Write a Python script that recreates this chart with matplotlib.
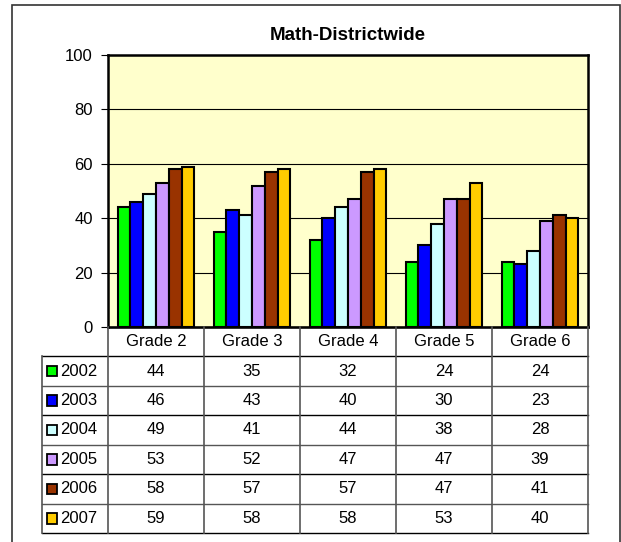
import matplotlib.pyplot as plt
import numpy as np
from matplotlib.patches import Rectangle

plt.rcParams['font.family'] = ['Liberation Sans', 'DejaVu Sans']

# 数据
grades = ['Grade 2', 'Grade 3', 'Grade 4', 'Grade 5', 'Grade 6']
years = ['2002', '2003', '2004', '2005', '2006', '2007']
scores = {
    '2002': [44, 35, 32, 24, 24],
    '2003': [46, 43, 40, 30, 23],
    '2004': [49, 41, 44, 38, 28],
    '2005': [53, 52, 47, 47, 39],
    '2006': [58, 57, 57, 47, 41],
    '2007': [59, 58, 58, 53, 40],
}
colors = ['#00FF00', '#0000FF', '#CCFFFF', '#CC99FF', '#993300', '#FFCC00']
title = 'Math-Districtwide'

W, H = 621, 542
fig = plt.figure(figsize=(W / 100, H / 100), dpi=100)
fs = 12


def px(x0, y0, x1, y1):
    # 像素坐标 -> figure 坐标
    return [x0 / W, 1 - y1 / H, (x1 - x0) / W, (y1 - y0) / H]


# 外框
fig.patches.append(Rectangle((12 / W, -0.01), (620 - 12) / W, 1 - 5 / H + 0.01,
                             transform=fig.transFigure, fill=False,
                             edgecolor='#333333', linewidth=1.2))

# 柱状图
ax = fig.add_axes(px(108, 55, 588, 327))
ax.set_facecolor('#FFFFCC')
n = len(years)
x = np.arange(len(grades))
bw = 1 / (n + 1.5)
for i, yr in enumerate(years):
    offs = (i - (n - 1) / 2) * bw
    ax.bar(x + offs, scores[yr], width=bw, color=colors[i],
           edgecolor='black', linewidth=1.5, zorder=3)
ax.set_xlim(-0.5, len(grades) - 0.5)
ax.set_ylim(0, 100)
ax.set_yticks(range(0, 101, 20))
ax.yaxis.grid(True, color='black', linewidth=0.8, zorder=0)
ax.set_xticks(np.arange(len(grades) + 1) - 0.5)
ax.set_xticklabels([])
ax.tick_params(axis='y', direction='out', length=5, labelsize=fs, pad=6)
ax.tick_params(axis='x', direction='out', length=0)
for s in ax.spines.values():
    s.set_linewidth(1.8)
    s.set_color('black')
ax.set_title(title, fontsize=13.5, fontweight='bold', pad=11)

# 数据表
tb = fig.add_axes(px(42, 327, 588, 533))
lab_w = 66 / 96
tb.set_xlim(-lab_w, len(grades))
tb.set_ylim(len(years) + 1, 0)
tb.axis('off')
lc = '#555555'
# 横线
tb.plot([0, len(grades)], [0, 0], color='black', lw=1, clip_on=False)
for r in range(1, len(years) + 2):
    tb.plot([-lab_w, len(grades)], [r, r], color='black' if r % 2 == 1 else lc,
            lw=1, clip_on=False)
# 竖线
tb.plot([-lab_w, -lab_w], [1, len(years) + 1], color=lc, lw=1.2, clip_on=False)
for c in range(len(grades) + 1):
    tb.plot([c, c], [0, len(years) + 1], color=lc, lw=1.2, clip_on=False)

for c, g in enumerate(grades):
    tb.text(c + 0.5, 0.5, g, ha='center', va='center', fontsize=fs)
for r, yr in enumerate(years):
    ky = r + 1.5
    tb.add_patch(Rectangle((-lab_w + 5 / 96, ky - 0.18), 10 / 96, 0.36,
                           facecolor=colors[r], edgecolor='black', lw=1.3))
    tb.text(-lab_w + 18 / 96, ky, yr, ha='left', va='center', fontsize=fs)
    for c in range(len(grades)):
        tb.text(c + 0.5, ky, str(scores[yr][c]), ha='center', va='center',
                fontsize=fs)

fig.savefig('out.png', dpi=100)
